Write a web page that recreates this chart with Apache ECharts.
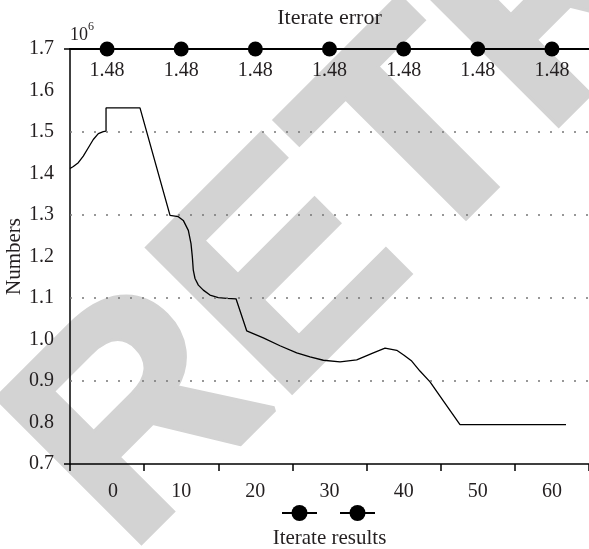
<!DOCTYPE html>
<html>
<head>
<meta charset="utf-8">
<script src="https://cdn.jsdelivr.net/npm/echarts@6/dist/echarts.min.js"></script>
<style>
html,body{margin:0;padding:0;background:#fff;}
#chart{width:589px;height:549px;}
</style>
</head>
<body>
<div id="chart"></div>
<script>
// ---- data ----
var categories = ['0', '10', '20', '30', '40', '50', '60'];
var errorPosition = [1.7, 1.7, 1.7, 1.7, 1.7, 1.7, 1.7];
var errorLabels = ['1.48', '1.48', '1.48', '1.48', '1.48', '1.48', '1.48'];
var curveX = [-5.0, -4.55, -3.88, -3.21, -2.53, -1.86, -1.18, -0.51, -0.14, -0.14, 4.44, 8.49, 9.61, 10.28, 10.96, 11.32, 11.50, 11.63, 11.86, 12.31, 12.98, 13.88, 15.0, 16.14, 17.39, 18.83, 21.07, 23.32, 25.58, 27.37, 29.17, 31.42, 33.67, 35.91, 37.49, 39.07, 40.05, 41.09, 42.2, 43.56, 45.35, 47.6, 61.9];
var curveY = [1.412, 1.417, 1.426, 1.442, 1.462, 1.482, 1.496, 1.501, 1.502, 1.558, 1.558, 1.299, 1.296, 1.287, 1.263, 1.231, 1.199, 1.167, 1.147, 1.131, 1.119, 1.107, 1.101, 1.099, 1.098, 1.021, 1.004, 0.985, 0.968, 0.958, 0.950, 0.946, 0.951, 0.968, 0.979, 0.974, 0.962, 0.948, 0.924, 0.898, 0.852, 0.795, 0.795];
var gridValues = [1.5, 1.3, 1.1, 0.9];
var yTickEnds = [0.7, 1.7];
var watermark = 'RETRACTED';

var FONT = '"Liberation Serif", "Times New Roman", serif';
var INK = '#231f20';

var curveData = curveX.map(function (x, i) { return [x, curveY[i]]; });

var chart = echarts.init(document.getElementById('chart'), null, { renderer: 'canvas' });
chart.setOption({
  animation: false,
  backgroundColor: '#fff',
  graphic: {
    elements: [{
      type: 'text',
      x: 70, y: 498,
      rotation: Math.PI / 4,
      z: -100,
      silent: true,
      style: {
        text: watermark,
        font: 'bold 295px "Liberation Sans", Arial, sans-serif',
        fill: '#d3d3d3',
        stroke: '#d3d3d3',
        lineWidth: 6,
        align: 'left', verticalAlign: 'middle',
        textAlign: 'left', textVerticalAlign: 'middle'
      }
    }]
  },
  grid: { left: 70, right: 0, top: 49, bottom: 85, containLabel: false, outerBoundsMode: 'none' },
  legend: {
    data: ['Iterate error', 'Iterate results'],
    formatter: function () { return ''; },
    left: 281, top: 503, padding: 0,
    itemWidth: 35, itemHeight: 20, itemGap: 21,
    selectedMode: false
  },
  xAxis: [{
    type: 'category',
    data: categories,
    position: 'bottom',
    boundaryGap: true,
    axisLine: { onZero: false, lineStyle: { color: '#000', width: 1.5 } },
    axisTick: { show: true, length: 7, lineStyle: { color: '#000', width: 1.5 } },
    axisLabel: {
      margin: 18, fontSize: 20, fontFamily: FONT, color: INK,
      formatter: function (v) { return v === '0' ? '{z|0}' : v; },
      rich: { z: { fontSize: 20, fontFamily: FONT, color: INK, padding: [0, 0, 0, 12] } }
    },
    splitLine: { show: false },
    name: 'Iterate results',
    nameLocation: 'middle',
    nameGap: 64,
    nameTextStyle: { fontSize: 21, fontFamily: FONT, color: INK }
  }, {
    type: 'value',
    min: -5, max: 65,
    position: 'top',
    axisLine: { show: true, onZero: false, lineStyle: { color: '#000', width: 2 } },
    axisTick: { show: false },
    axisLabel: { show: false },
    splitLine: { show: false },
    name: 'Iterate error',
    nameLocation: 'middle',
    nameGap: 20,
    nameTextStyle: { fontSize: 22, fontFamily: FONT, color: INK }
  }],
  yAxis: [{
    type: 'value',
    min: 0.7, max: 1.7, interval: 0.1,
    axisLine: { show: true, onZero: false, lineStyle: { color: '#000', width: 1.5 } },
    axisTick: { show: true, customValues: yTickEnds, length: 6, lineStyle: { color: '#000', width: 1.5 } },
    axisLabel: {
      margin: 16, fontSize: 20, fontFamily: FONT, color: INK,
      padding: [6, 0, 0, 0],
      formatter: function (v) { return v.toFixed(1); }
    },
    splitLine: { show: false },
    name: '{a|10}{b|6}',
    nameLocation: 'end',
    nameGap: 5,
    nameTextStyle: {
      align: 'left', verticalAlign: 'bottom',
      rich: {
        a: { fontSize: 18, fontFamily: FONT, color: INK, lineHeight: 23, verticalAlign: 'bottom' },
        b: { fontSize: 12, fontFamily: FONT, color: INK, lineHeight: 13, verticalAlign: 'top' }
      }
    }
  }, {
    type: 'value',
    min: 0.7, max: 1.7,
    position: 'left',
    axisLine: { show: false, onZero: false },
    axisTick: { show: false },
    axisLabel: { show: false },
    splitLine: { show: false },
    name: 'Numbers',
    nameLocation: 'middle',
    nameGap: 45,
    nameTextStyle: { fontSize: 21, fontFamily: FONT, color: INK }
  }],
  series: [{
    name: 'Iterate error',
    type: 'line',
    xAxisIndex: 0, yAxisIndex: 0,
    data: errorPosition,
    symbol: 'circle',
    symbolSize: 15,
    clip: false,
    lineStyle: { color: '#000', width: 2 },
    itemStyle: { color: '#000' },
    label: {
      show: true, position: 'bottom', distance: 4,
      fontSize: 20, fontFamily: FONT, color: INK,
      formatter: function (p) { return errorLabels[p.dataIndex]; }
    },
    z: 5
  }, {
    name: 'Iterate results',
    type: 'line',
    xAxisIndex: 1, yAxisIndex: 0,
    data: curveData,
    symbol: 'circle',
    showSymbol: false,
    smooth: false,
    lineStyle: { color: '#000', width: 1.3 },
    itemStyle: { color: '#000' },
    markLine: {
      silent: true,
      symbol: ['none', 'none'],
      label: { show: false },
      lineStyle: { color: '#777', width: 1.5, type: [2, 10] },
      data: gridValues.map(function (v) { return { yAxis: v }; })
    },
    z: 4
  }]
});
</script>
</body>
</html>
